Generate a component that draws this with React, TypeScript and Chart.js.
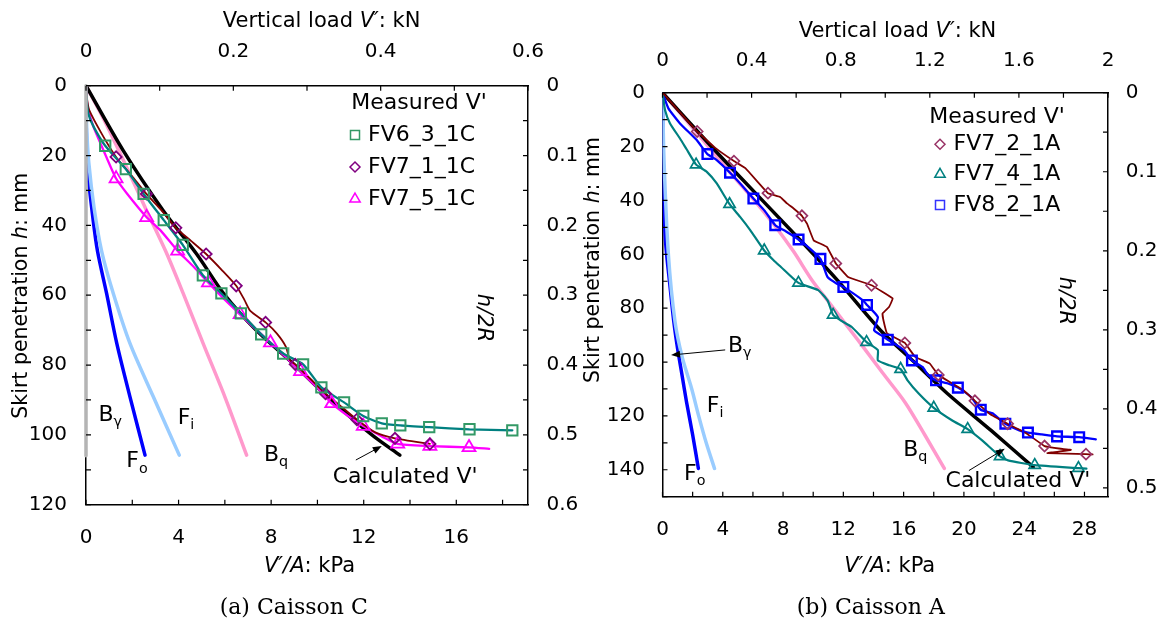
import React, { useEffect, useRef } from 'react';
import { Chart, registerables } from 'chart.js';

Chart.register(...registerables);

type Pt = [number, number];
type Seg = { t: string; it?: boolean; sub?: boolean };

// ================= Panel (a) Caisson C =================
const C_DIAM = 0.2; // m
const C_H_MAX = 120; // mm
const C_TOP_MAX = 0.6; // kN
const C_X_TICKS = [0, 2, 4, 6, 8, 10, 12, 14, 16, 18];
const C_X_LABELS = [0, 4, 8, 12, 16];
const C_TOP_TICKS = [0, 0.1, 0.2, 0.3, 0.4, 0.5, 0.6];
const C_TOP_LABELS = [0, 0.2, 0.4, 0.6];
const C_Y_TICKS = [0, 10, 20, 30, 40, 50, 60, 70, 80, 90, 100, 110, 120];
const C_Y_LABELS = [0, 20, 40, 60, 80, 100, 120];
const C_R_TICKS = [0, 0.05, 0.1, 0.15, 0.2, 0.25, 0.3, 0.35, 0.4, 0.45, 0.5, 0.55, 0.6];
const C_R_LABELS = [0, 0.1, 0.2, 0.3, 0.4, 0.5, 0.6];

const C_BGAMMA: Pt[] = [[0, 0], [0, 106]];
const C_FO: Pt[] = [[0, 0], [0.02, 15], [0.1, 26], [0.3, 38], [0.5, 47.5], [0.89, 59.5], [1.33, 73.8], [1.9, 89.1], [2.55, 105.8]];
const C_FI: Pt[] = [[0, 0], [0.03, 12], [0.12, 22], [0.35, 35], [0.68, 47.5], [1.18, 59.5], [1.9, 73.8], [2.91, 89.1], [4.03, 105.8]];
const C_BQ: Pt[] = [[0, 0], [0.8, 10], [1.76, 23.4], [2.62, 35.8], [3.45, 47.5], [4.2, 59.5], [5.06, 73.8], [6.0, 89.1], [6.94, 105.8]];
const C_CALC: Pt[] = [[0, 0], [1.61, 18.6], [3.34, 35.8], [4.78, 48.2], [6.0, 60], [7.35, 70], [8.93, 79.5], [10.1, 87], [11.4, 94.8], [12.45, 100.5], [13.56, 105.8]];

const C_FV6_LINE: Pt[] = [[0, 0], [0.03, 4], [0.1, 8], [0.35, 12], [0.83, 17.2], [1.72, 23.9], [2.49, 31.0], [3.36, 38.5], [4.18, 45.6], [5.05, 54.3], [5.85, 59.5], [6.69, 65.2], [7.57, 71.2], [8.52, 76.7], [9.38, 79.8], [10.17, 86.4], [11.15, 90.7], [11.98, 94.6], [12.78, 96.7], [13.58, 97.3], [14.83, 97.8], [16.57, 98.4], [18.42, 98.7]];
const C_FV6_MARKS: Pt[] = [[0.83, 17.2], [1.72, 23.9], [2.49, 31.0], [3.36, 38.5], [4.18, 45.6], [5.05, 54.3], [5.85, 59.5], [6.69, 65.2], [7.57, 71.2], [8.52, 76.7], [9.38, 79.8], [10.17, 86.4], [11.15, 90.7], [11.98, 94.6], [12.78, 96.7], [13.58, 97.3], [14.83, 97.8], [16.57, 98.4], [18.42, 98.7]];
const C_FV71_LINE: Pt[] = [[0, 0], [0.05, 4], [0.14, 7], [0.7, 14], [1.3, 20.4], [2.0, 26], [2.61, 31], [3.3, 36], [3.88, 40.7], [4.55, 44.5], [5.19, 48.2], [5.9, 53], [6.49, 57.3], [6.85, 61.4], [7.1, 64.5], [7.76, 67.8], [8.25, 71], [8.64, 74.8], [8.81, 78.6], [9.04, 79.8], [9.7, 84], [10.35, 88.2], [11.05, 92], [11.7, 95.6], [12.5, 99.3], [13.35, 101], [14.86, 102.6]];
const C_FV71_MARKS: Pt[] = [[1.3, 20.4], [2.61, 31.0], [3.88, 40.7], [5.19, 48.2], [6.49, 57.3], [7.76, 67.8], [9.04, 79.8], [10.35, 88.2], [11.7, 95.6], [13.35, 101], [14.86, 102.6]];
const C_FV75_LINE: Pt[] = [[0, 0], [0.03, 4], [0.1, 7], [0.32, 11.7], [0.75, 18.4], [1.3, 26.6], [1.76, 30.8], [2.62, 37.7], [3.2, 41.3], [3.96, 47.3], [4.6, 51.5], [5.29, 56.4], [5.95, 61], [6.66, 65.5], [7.3, 69.5], [7.97, 73.6], [8.6, 77.5], [9.27, 81.8], [10.0, 86.5], [10.62, 91], [11.3, 94.5], [11.98, 97.5], [12.8, 100.5], [13.47, 102.6], [14.86, 103.2], [16.55, 103.6], [17.42, 104]];
const C_FV75_MARKS: Pt[] = [[1.3, 26.6], [2.62, 37.7], [3.96, 47.3], [5.29, 56.4], [6.66, 65.5], [7.97, 73.6], [9.27, 81.8], [10.62, 91], [11.98, 97.5], [13.47, 102.6], [14.86, 103.2], [16.55, 103.6]];
const C_SERIES_NAMES = ['FV6_3_1C', 'FV7_1_1C', 'FV7_5_1C'];

// ================= Panel (b) Caisson A =================
const A_DIAM = 0.2935; // m
const A_H_MAX = 150; // mm
const A_TOP_MAX = 2; // kN
const A_X_TICKS = [0, 2, 4, 6, 8, 10, 12, 14, 16, 18, 20, 22, 24, 26, 28];
const A_X_LABELS = [0, 4, 8, 12, 16, 20, 24, 28];
const A_TOP_TICKS = [0, 0.2, 0.4, 0.6, 0.8, 1.0, 1.2, 1.4, 1.6, 1.8, 2.0];
const A_TOP_LABELS = [0, 0.4, 0.8, 1.2, 1.6, 2.0];
const A_Y_TICKS = [0, 10, 20, 30, 40, 50, 60, 70, 80, 90, 100, 110, 120, 130, 140, 150];
const A_Y_LABELS = [0, 20, 40, 60, 80, 100, 120, 140];
const A_R_TICKS = [0, 0.05, 0.1, 0.15, 0.2, 0.25, 0.3, 0.35, 0.4, 0.45, 0.5];
const A_R_LABELS = [0, 0.1, 0.2, 0.3, 0.4, 0.5];

const A_FO: Pt[] = [[0, 0], [0.05, 30], [0.2, 55], [0.5, 72], [0.75, 85], [1.0, 95], [1.3, 105], [1.6, 115], [2.0, 127], [2.38, 139.5]];
const A_FI: Pt[] = [[0, 0], [0.1, 25], [0.39, 60], [0.83, 85], [1.3, 98], [1.94, 110], [2.4, 120], [2.9, 130], [3.45, 139.5]];
const A_BQ: Pt[] = [[0, 0], [2.3, 15], [4.49, 29.7], [6.0, 39.3], [7.43, 49.2], [8.7, 59], [9.92, 69.6], [11.07, 78], [12.3, 87], [13.4, 95], [14.6, 104], [16.1, 115], [17.4, 127], [18.7, 139.5]];
const A_CALC: Pt[] = [[0, 0], [3.0, 18.5], [4.5, 27.5], [9.1, 54.5], [11.6, 69.6], [14.46, 88.2], [16.7, 100], [18.9, 111.7], [21.8, 125.4], [24.6, 139]];

const A_FV72_LINE: Pt[] = [[0, 0], [2.3, 14.4], [3.5, 20.5], [4.74, 25.4], [5.5, 28], [6.3, 33], [7.0, 37.3], [7.81, 38.7], [8.26, 41.1], [8.7, 43], [9.25, 45.7], [9.59, 48.6], [10.03, 54.8], [10.92, 57.3], [11.5, 63.4], [12.31, 68.4], [13.87, 71.5], [15.28, 76.4], [15.03, 79.6], [14.6, 82], [14.66, 84.5], [14.9, 89.4], [16.08, 92.9], [16.76, 98.1], [17.74, 100.6], [18.3, 104.8], [19.24, 108], [19.97, 110.5], [20.73, 114.4], [21.7, 119.2], [22.9, 122.9], [24.18, 126.6], [25.35, 131.2], [26.43, 132.2], [27.1, 132.6], [25.54, 133.8], [28.1, 134.2], [28.54, 134.3]];
const A_FV72_MARKS: Pt[] = [[2.3, 14.4], [4.74, 25.4], [7.0, 37.3], [9.25, 45.7], [11.5, 63.4], [13.87, 71.5], [16.08, 92.9], [18.3, 104.8], [20.73, 114.4], [22.9, 122.9], [25.35, 131.2], [28.1, 134.2]];
const A_FV74_LINE: Pt[] = [[0, 0], [0.17, 6.5], [0.5, 11.4], [1.16, 17], [1.6, 21], [2.23, 26.7], [2.94, 29.4], [3.6, 33.7], [4.45, 41.4], [5.15, 46.1], [5.82, 51], [6.75, 58.6], [7.37, 62.2], [7.86, 64.7], [9.02, 70.6], [10.33, 73.3], [10.95, 77.1], [11.32, 82.5], [11.81, 84.5], [12.56, 87], [13.54, 92.6], [14.29, 95.6], [14.29, 99.4], [15.03, 101.2], [15.8, 102.6], [16.26, 106.8], [17.0, 111.7], [18.0, 117], [19.23, 121.7], [20.25, 124.9], [21.21, 129.1], [22.4, 135], [22.93, 136.5], [24.7, 138.3], [27.6, 139.4], [28.13, 139.6]];
const A_FV74_MARKS: Pt[] = [[2.23, 26.7], [4.45, 41.4], [6.75, 58.6], [9.02, 70.6], [11.32, 82.5], [13.54, 92.6], [15.8, 102.6], [18.0, 117], [20.25, 124.9], [22.4, 135], [24.7, 138.3], [27.6, 139.4]];
const A_FV82_LINE: Pt[] = [[0, 0], [0.39, 5.8], [1.16, 11.4], [2.27, 17.6], [2.98, 22.8], [3.6, 25], [4.48, 29.7], [5.2, 34], [6.03, 39.3], [6.8, 44], [7.48, 49.2], [8.2, 51.5], [9.03, 54.5], [9.8, 58], [10.48, 61.7], [10.7, 64.7], [10.95, 68.4], [11.57, 70.9], [12.0, 72.1], [13.3, 77.1], [13.57, 78.8], [14.29, 83.3], [14.04, 88.2], [14.53, 90.1], [14.95, 91.7], [16.02, 95.6], [16.55, 99.4], [17.25, 101.8], [17.63, 104.9], [18.15, 106.8], [18.98, 108], [19.6, 109.5], [20.47, 113], [21.12, 117.7], [21.95, 119.2], [22.32, 121], [22.75, 122.9], [23.68, 125.4], [24.25, 126.2], [25.17, 126.9], [26.18, 127.6], [27.65, 127.9], [28.75, 128.7]];
const A_FV82_MARKS: Pt[] = [[2.98, 22.8], [4.48, 29.7], [6.03, 39.3], [7.48, 49.2], [9.03, 54.5], [10.48, 61.7], [12.0, 72.1], [13.57, 78.8], [14.95, 91.7], [16.55, 99.4], [18.15, 106.8], [19.6, 109.5], [21.12, 117.7], [22.75, 122.9], [24.25, 126.2], [26.18, 127.6], [27.65, 127.9]];
const A_SERIES_NAMES = ['FV7_2_1A', 'FV7_4_1A', 'FV8_2_1A'];

// ================= helpers =================
const FONT = '"DejaVu Sans", "Liberation Sans", Arial, sans-serif';
const SERIF = '"DejaVu Serif", "Liberation Serif", serif';

const fmt = (v: number) => String(Math.round(v * 1000) / 1000);
const inList = (list: number[], v: number) => list.some((l) => Math.abs(l - v) < 1e-9);
const toXY = (d: Pt[]) => d.map(([x, y]) => ({ x, y }));

const lineDs = (data: Pt[], color: string, width: number, order: number, tension = 0.2, clip: any = undefined) => ({
  data: toXY(data),
  borderColor: color,
  backgroundColor: color,
  borderWidth: width,
  pointRadius: 0,
  pointHitRadius: 0,
  fill: false,
  tension,
  order,
  clip,
  borderCapStyle: 'round',
  borderJoinStyle: 'round',
  xAxisID: 'x',
  yAxisID: 'y',
});

const markDs = (data: Pt[], color: string, style: string, r: number, bw: number) => ({
  data: toXY(data),
  showLine: false,
  pointStyle: style,
  pointRadius: r,
  pointHitRadius: 0,
  pointBorderColor: color,
  pointBackgroundColor: 'rgba(0,0,0,0)',
  pointBorderWidth: bw,
  order: 0,
  clip: 8,
  xAxisID: 'x',
  yAxisID: 'y',
});

interface Annot { segs: Seg[]; x: number; y: number }
interface Panel {
  diam: number; hMax: number; topMax: number;
  xTicks: number[]; xLabels: number[]; topTicks: number[]; topLabels: number[];
  yTicks: number[]; yLabels: number[]; rTicks: number[]; rLabels: number[];
  box: { l: number; r: number; t: number; b: number };
  pad: { x: number; x2: number; y: number; y2: number };
  datasets: any[];
  legend: { names: string[]; colors: string[]; shapes: string[]; titleDx: number; titleDy: number; markDx: number; textDx: number; rowsDy: number[] };
  annots: Annot[];
  arrows: { from: Pt; to: Pt }[];
  titles: { top: Pt; bottom: Pt; left: Pt; right: Pt };
  caption: string; captionPos: Pt;
}

function richWidth(ctx: CanvasRenderingContext2D, segs: Seg[], size: number) {
  let w = 0;
  segs.forEach((s) => {
    const sz = s.sub ? size * 0.65 : size;
    ctx.font = `${s.it ? 'italic ' : ''}${sz}px ${FONT}`;
    w += ctx.measureText(s.t).width;
  });
  return w;
}

function drawRich(ctx: CanvasRenderingContext2D, segs: Seg[], x: number, y: number, size: number, align: 'center' | 'left', angle = 0) {
  ctx.save();
  ctx.translate(x, y);
  ctx.rotate(angle);
  const w = richWidth(ctx, segs, size);
  let cx = align === 'center' ? -w / 2 : 0;
  ctx.textBaseline = 'middle';
  ctx.textAlign = 'left';
  ctx.fillStyle = '#000';
  segs.forEach((s) => {
    const sz = s.sub ? size * 0.65 : size;
    ctx.font = `${s.it ? 'italic ' : ''}${sz}px ${FONT}`;
    ctx.fillText(s.t, cx, s.sub ? size * 0.33 : 0);
    cx += ctx.measureText(s.t).width;
  });
  ctx.restore();
}

function drawMarker(ctx: CanvasRenderingContext2D, shape: string, x: number, y: number, color: string) {
  ctx.save();
  ctx.strokeStyle = color;
  ctx.lineWidth = 1.5;
  ctx.beginPath();
  if (shape === 'rect') {
    ctx.rect(x - 4.5, y - 4.5, 9, 9);
  } else if (shape === 'rectRot') {
    ctx.moveTo(x - 5, y); ctx.lineTo(x, y - 5); ctx.lineTo(x + 5, y); ctx.lineTo(x, y + 5); ctx.closePath();
  } else {
    const r = 6;
    ctx.moveTo(x, y - r); ctx.lineTo(x + 0.866 * r, y + 0.5 * r); ctx.lineTo(x - 0.866 * r, y + 0.5 * r); ctx.closePath();
  }
  ctx.stroke();
  ctx.restore();
}

function decorPlugin(p: Panel) {
  return {
    id: 'decor',
    afterDraw(chart: any) {
      const ctx: CanvasRenderingContext2D = chart.ctx;
      const a = chart.chartArea;
      const { x: sx, x2: sx2, y: sy, y2: sy2 } = chart.scales;
      ctx.save();
      // inward tick marks
      ctx.strokeStyle = '#000';
      ctx.lineWidth = 1.2;
      ctx.beginPath();
      const L = 5;
      p.xTicks.forEach((v) => { const q = sx.getPixelForValue(v); ctx.moveTo(q, a.bottom); ctx.lineTo(q, a.bottom - L); });
      p.topTicks.forEach((v) => { const q = sx2.getPixelForValue(v); ctx.moveTo(q, a.top); ctx.lineTo(q, a.top + L); });
      p.yTicks.forEach((v) => { const q = sy.getPixelForValue(v); ctx.moveTo(a.left, q); ctx.lineTo(a.left + L, q); });
      p.rTicks.forEach((v) => { const q = sy2.getPixelForValue(v); ctx.moveTo(a.right, q); ctx.lineTo(a.right - L, q); });
      ctx.stroke();

      // axis titles
      drawRich(ctx, [{ t: 'Vertical load ' }, { t: 'V′', it: true }, { t: ': kN' }], p.titles.top[0], p.titles.top[1], 21, 'center');
      drawRich(ctx, [{ t: 'V′/A', it: true }, { t: ': kPa' }], p.titles.bottom[0], p.titles.bottom[1], 21, 'center');
      drawRich(ctx, [{ t: 'Skirt penetration ' }, { t: 'h', it: true }, { t: ': mm' }], p.titles.left[0], p.titles.left[1], 20.5, 'center', -Math.PI / 2);
      drawRich(ctx, [{ t: 'h/2R', it: true }], p.titles.right[0], p.titles.right[1], 21, 'center', Math.PI / 2);

      // legend
      const lg = p.legend;
      drawRich(ctx, [{ t: "Measured V'" }], a.right - lg.titleDx, a.top + lg.titleDy, 22, 'center');
      lg.names.forEach((n, i) => {
        const yy = a.top + lg.rowsDy[i];
        drawMarker(ctx, lg.shapes[i], a.right - lg.markDx, yy, lg.colors[i]);
        drawRich(ctx, [{ t: n }], a.right - lg.textDx, yy, 22, 'left');
      });

      // annotations
      p.annots.forEach((an) => {
        drawRich(ctx, an.segs, sx.getPixelForValue(an.x), sy.getPixelForValue(an.y), 22, 'left');
      });
      p.arrows.forEach((ar) => {
        const x1 = sx.getPixelForValue(ar.from[0]);
        const y1 = sy.getPixelForValue(ar.from[1]);
        const x2 = sx.getPixelForValue(ar.to[0]);
        const y2 = sy.getPixelForValue(ar.to[1]);
        const ang = Math.atan2(y2 - y1, x2 - x1);
        ctx.strokeStyle = '#000';
        ctx.fillStyle = '#000';
        ctx.lineWidth = 1;
        ctx.beginPath();
        ctx.moveTo(x1, y1);
        ctx.lineTo(x2 - 6 * Math.cos(ang), y2 - 6 * Math.sin(ang));
        ctx.stroke();
        ctx.beginPath();
        ctx.moveTo(x2, y2);
        ctx.lineTo(x2 - 9 * Math.cos(ang) + 3.5 * Math.sin(ang), y2 - 9 * Math.sin(ang) - 3.5 * Math.cos(ang));
        ctx.lineTo(x2 - 9 * Math.cos(ang) - 3.5 * Math.sin(ang), y2 - 9 * Math.sin(ang) + 3.5 * Math.cos(ang));
        ctx.closePath();
        ctx.fill();
      });

      // caption
      ctx.font = `22px ${SERIF}`;
      ctx.fillStyle = '#000';
      ctx.textAlign = 'center';
      ctx.textBaseline = 'middle';
      ctx.fillText(p.caption, p.captionPos[0], p.captionPos[1]);
      ctx.restore();
    },
  };
}

function buildConfig(p: Panel): any {
  const area = (Math.PI * p.diam * p.diam) / 4;
  const xMax = p.topMax / area;
  const rMax = p.hMax / (p.diam * 1000);
  const tickFont = { family: FONT, size: 20 };
  const axis = (ticks: number[], labels: number[], pad: number) => ({
    type: 'linear',
    grid: { display: false, drawTicks: false },
    border: { display: true, color: '#000', width: 1.5 },
    afterBuildTicks: (s: any) => { s.ticks = ticks.map((v) => ({ value: v })); },
    ticks: {
      autoSkip: false, maxRotation: 0, minRotation: 0, padding: pad, color: '#000', font: tickFont,
      callback: (v: any) => (inList(labels, Number(v)) ? fmt(Number(v)) : ''),
    },
  });
  return {
    type: 'line',
    data: { datasets: p.datasets },
    options: {
      animation: false,
      responsive: false,
      devicePixelRatio: 1,
      events: [],
      layout: { padding: 0 },
      plugins: { legend: { display: false }, tooltip: { enabled: false }, title: { display: false } },
      scales: {
        x: { ...axis(p.xTicks, p.xLabels, p.pad.x), position: 'bottom', min: 0, max: xMax, afterFit: (s: any) => { s.height = p.box.b; } },
        x2: { ...axis(p.topTicks, p.topLabels, p.pad.x2), position: 'top', min: 0, max: p.topMax, afterFit: (s: any) => { s.height = p.box.t; } },
        y: { ...axis(p.yTicks, p.yLabels, p.pad.y), position: 'left', reverse: true, min: 0, max: p.hMax, afterFit: (s: any) => { s.width = p.box.l; } },
        y2: { ...axis(p.rTicks, p.rLabels, p.pad.y2), position: 'right', reverse: true, min: 0, max: rMax, afterFit: (s: any) => { s.width = p.box.r; } },
      },
    },
    plugins: [decorPlugin(p)],
  };
}

const PANEL_C: Panel = {
  diam: C_DIAM, hMax: C_H_MAX, topMax: C_TOP_MAX,
  xTicks: C_X_TICKS, xLabels: C_X_LABELS, topTicks: C_TOP_TICKS, topLabels: C_TOP_LABELS,
  yTicks: C_Y_TICKS, yLabels: C_Y_LABELS, rTicks: C_R_TICKS, rLabels: C_R_LABELS,
  box: { l: 86, r: 52, t: 85.7, b: 118.3 },
  pad: { x: 21.3, x2: 22, y: 19, y2: 18.5 },
  datasets: [
    markDs(C_FV6_MARKS, '#339966', 'rect', 7.3, 2),
    markDs(C_FV71_MARKS, '#800080', 'rectRot', 5.6, 1.8),
    markDs(C_FV75_MARKS, '#ff00ff', 'triangle', 7.5, 1.8),
    lineDs(C_BGAMMA, '#b4b4b4', 3.5, 0.5, 0, false),
    lineDs(C_FV6_LINE, '#008080', 2.3, 1),
    lineDs(C_FV71_LINE, '#800000', 1.8, 1),
    lineDs(C_FV75_LINE, '#ff00ff', 2.3, 1),
    lineDs(C_CALC, '#000000', 3.5, 2, 0.3),
    lineDs(C_BQ, '#ff99cc', 3.5, 3, 0.3),
    lineDs(C_FI, '#99ccff', 3.5, 3, 0.3),
    lineDs(C_FO, '#0000ff', 3.5, 3, 0.3),
  ],
  legend: { names: C_SERIES_NAMES, colors: ['#339966', '#800080', '#ff00ff'], shapes: ['rect', 'rectRot', 'triangle'], titleDx: 109, titleDy: 17.3, markDx: 173, textDx: 160, rowsDy: [49.3, 81.3, 113.3] },
  annots: [
    { segs: [{ t: 'B' }, { t: 'γ', sub: true }], x: 0.54, y: 94.4 },
    { segs: [{ t: 'F' }, { t: 'i', sub: true }], x: 3.96, y: 95.3 },
    { segs: [{ t: 'F' }, { t: 'o', sub: true }], x: 1.74, y: 107.7 },
    { segs: [{ t: 'B' }, { t: 'q', sub: true }], x: 7.69, y: 105.8 },
    { segs: [{ t: "Calculated V'" }], x: 10.66, y: 112.1 },
  ],
  arrows: [{ from: [11.66, 107.2], to: [12.78, 103.2] }],
  titles: { top: [321.6, 21.7], bottom: [309.5, 567], left: [21.3, 295.7], right: [483, 318] },
  caption: '(a) Caisson C', captionPos: [293.7, 608],
};

const PANEL_A: Panel = {
  diam: A_DIAM, hMax: A_H_MAX, topMax: A_TOP_MAX,
  xTicks: A_X_TICKS, xLabels: A_X_LABELS, topTicks: A_TOP_TICKS, topLabels: A_TOP_LABELS,
  yTicks: A_Y_TICKS, yLabels: A_Y_LABELS, rTicks: A_R_TICKS, rLabels: A_R_LABELS,
  box: { l: 82.5, r: 52, t: 92.7, b: 126.3 },
  pad: { x: 21.3, x2: 19.7, y: 17.5, y2: 17.7 },
  datasets: [
    markDs(A_FV72_MARKS, '#993366', 'rectRot', 5.5, 1.7),
    markDs(A_FV74_MARKS, '#008080', 'triangle', 6.5, 1.7),
    markDs(A_FV82_MARKS, '#0000ff', 'rect', 6.8, 2.4),
    lineDs(A_FV72_LINE, '#800000', 1.8, 1, 0.05),
    lineDs(A_FV74_LINE, '#008080', 2.2, 1, 0.15),
    lineDs(A_FV82_LINE, '#0000ff', 2.3, 1, 0.15),
    lineDs(A_CALC, '#000000', 3.5, 2, 0.3),
    lineDs(A_BQ, '#ff99cc', 3.5, 3, 0.3),
    lineDs(A_FI, '#99ccff', 3.5, 3, 0.3),
    lineDs(A_FO, '#0000ff', 3.5, 3, 0.3),
  ],
  legend: { names: A_SERIES_NAMES, colors: ['#993366', '#008080', '#3333ff'], shapes: ['rectRot', 'triangle', 'rect'], titleDx: 111, titleDy: 24.3, markDx: 168, textDx: 154.4, rowsDy: [51.6, 81.6, 112.3] },
  annots: [
    { segs: [{ t: 'B' }, { t: 'γ', sub: true }], x: 4.34, y: 94.2 },
    { segs: [{ t: 'F' }, { t: 'i', sub: true }], x: 2.94, y: 116.5 },
    { segs: [{ t: 'F' }, { t: 'o', sub: true }], x: 1.43, y: 141.5 },
    { segs: [{ t: 'B' }, { t: 'q', sub: true }], x: 15.97, y: 132.8 },
    { segs: [{ t: "Calculated V'" }], x: 18.78, y: 144.3 },
  ],
  arrows: [
    { from: [4.16, 95.5], to: [0.57, 97.4] },
    { from: [20.33, 140.3], to: [22.71, 132.2] },
  ],
  titles: { top: [317.5, 31.7], bottom: [309.7, 567], left: [13.5, 260], right: [485, 301] },
  caption: '(b) Caisson A', captionPos: [290.8, 608],
};

function PanelChart({ panel, left }: { panel: Panel; left: number }) {
  const ref = useRef<HTMLCanvasElement>(null);
  useEffect(() => {
    if (!ref.current) return;
    const chart = new Chart(ref.current, buildConfig(panel));
    return () => chart.destroy();
  }, [panel]);
  return (
    <canvas
      ref={ref}
      width={580}
      height={623}
      style={{ position: 'absolute', left, top: 0, width: 580, height: 623 }}
    />
  );
}

export default function App() {
  useEffect(() => {
    document.body.style.margin = '0';
  }, []);
  return (
    <div style={{ position: 'fixed', left: 0, top: 0, width: 1160, height: 623, background: '#fff', overflow: 'hidden' }}>
      <PanelChart panel={PANEL_C} left={0} />
      <PanelChart panel={PANEL_A} left={580} />
    </div>
  );
}
